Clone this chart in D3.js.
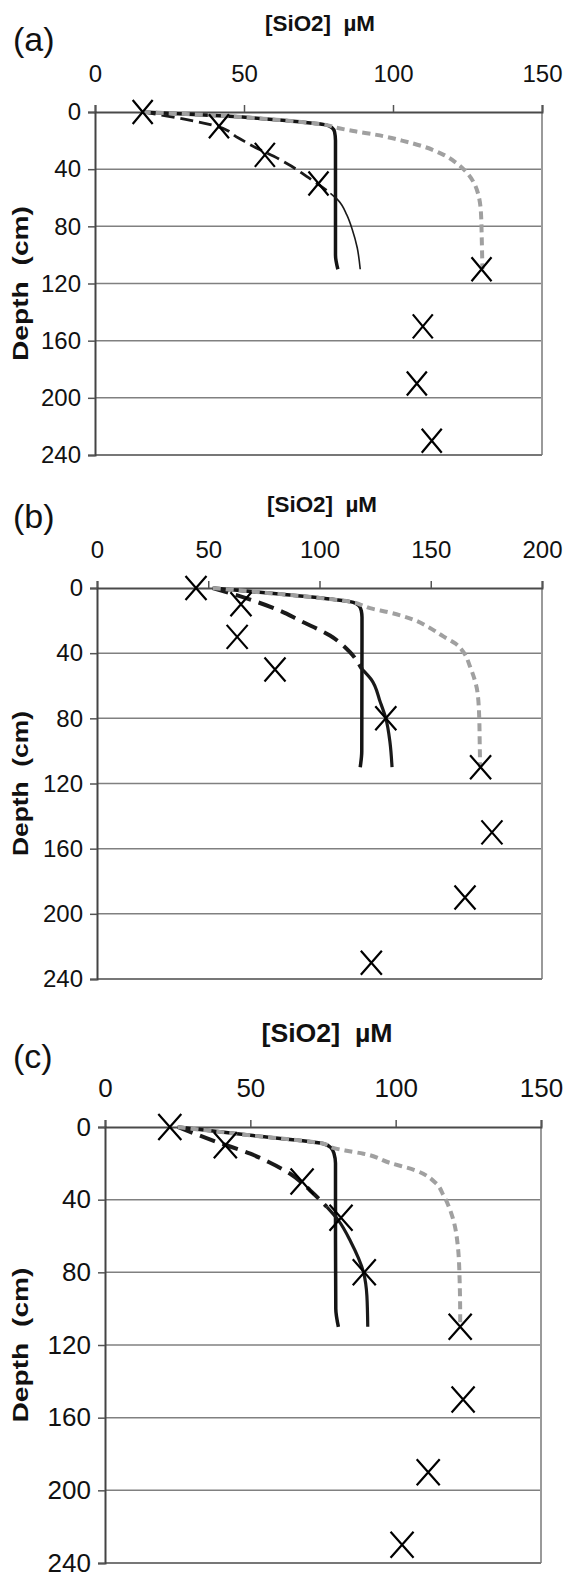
<!DOCTYPE html>
<html>
<head>
<meta charset="utf-8">
<script src="https://cdn.jsdelivr.net/npm/d3@7"></script>
<style>
  body { margin: 0; background: #fff; }
  svg { display: block; font-family: 'Liberation Sans', Arial, sans-serif; }
</style>
</head>
<body>
<div id="chart"></div>
<script>
// tick values
var depthTicks = [0, 40, 80, 120, 160, 200, 240]
var xTicksA = [0, 50, 100, 150]
var xTicksB = [0, 50, 100, 150, 200]
var xTicksC = [0, 50, 100, 150]

// measured porewater silica (the X marks)
var obsDepthA = [0, 10, 30, 50, 110, 150, 190, 230]
var obsSiA = [16, 41.6, 57, 75, 129.7, 110, 108, 113]
var obsDepthB = [0, 10, 30, 50, 80, 110, 150, 190, 230]
var obsSiB = [44.5, 64.7, 63, 80, 129.8, 172.4, 177.5, 165.4, 123.3]
var obsDepthC = [0, 10, 30, 50, 80, 110, 150, 190, 230]
var obsSiC = [22.3, 41.4, 67.8, 81.2, 89.2, 122.2, 123.2, 111.2, 102.2]

// model 1 (solid black)
var solidDepthA = [0, 3, 6, 9, 11, 14, 20, 60, 100, 110]
var solidSiA = [16, 45, 64, 77.5, 79.5, 80.4, 80.7, 80.7, 80.7, 81.5]
var solidDepthB = [0, 3.7, 6.8, 8.8, 11, 14, 18, 30, 100, 110]
var solidSiB = [52, 82, 104.7, 115.2, 117.8, 118.8, 119.1, 119.1, 119, 118.3]
var solidDepthC = [0, 4.6, 9.2, 11.5, 14.7, 20, 60, 100, 110]
var solidSiC = [25, 50, 75.2, 77.8, 78.8, 79.3, 79.3, 79.4, 80.3]

// model 2 (black dashed near the top, then solid)
var dashDepthA = [0, 5, 10, 18, 25, 31, 38, 45, 50, 57]
var dashSiA = [16, 30, 41, 48, 54, 60, 66, 71, 74.5, 79]
var tailDepthA = [57, 62, 72, 82, 95, 110]
var tailSiA = [79, 81.7, 84.5, 86.3, 88, 89]
var dashDepthB = [0, 7.8, 13.9, 20, 29.2, 39.4, 49.6]
var dashSiB = [52, 70.3, 82.2, 91.2, 104.7, 113.7, 119]
var tailDepthB = [49.6, 56, 70, 80, 95, 110]
var tailSiB = [119, 123.2, 127.3, 129.8, 131.7, 132.6]
var dashDepthC = [0, 8.3, 14.7, 19.3, 25.7, 34.9, 44]
var dashSiC = [25, 38.6, 50, 56.3, 63.7, 70.6, 76.3]
var tailDepthC = [44, 51.4, 63, 80.4, 93, 110]
var tailSiC = [76.3, 80.3, 84.5, 89, 90.1, 90.4]

// model 3 (grey dashed)
var grayDepthA = [0, 3, 6, 9, 11, 13.5, 16, 20, 24, 30, 36, 43, 52, 70, 90, 110]
var graySiA = [16, 45, 64, 77.5, 81, 87.3, 94.5, 103, 110, 117, 121.5, 125, 127.7, 129.5, 129.8, 130]
var grayDepthB = [0, 3.7, 6.8, 8.8, 10.5, 12.4, 14.9, 19.4, 24, 30, 34, 40, 48, 64, 80, 95, 110]
var graySiB = [52, 82, 104.7, 115.2, 119, 122.7, 131, 142.2, 149, 156, 161, 165, 167.6, 171, 171.8, 172, 172.2]
var grayDepthC = [0, 4.6, 9.2, 11.5, 12.9, 14.7, 19.8, 23.7, 31, 37.4, 49.3, 65.8, 84, 106, 110]
var graySiC = [25, 50, 75.2, 78.5, 82.6, 88.9, 98.1, 106.5, 113.9, 116.4, 119.5, 121.4, 122, 122.2, 122.2]

function pts(depth, si) {
  return d3.zip(depth, si).map(function(p) { return { d: p[0], v: p[1] } })
}

var panels = [
  { tag: '(a)', top: 112, bottom: 455, left: 95, right: 542, xMax: 150, xTicks: xTicksA,
    tagY: 51, titleX: 320, titleY: 31, titleLen: 110, titleSize: 22, yTitleLen: 155, font: 24,
    mark: [10, 12], dashW: 2.8, dashArr: '13,6', tailW: 1.6,
    obs: pts(obsDepthA, obsSiA), solid: pts(solidDepthA, solidSiA), dash: pts(dashDepthA, dashSiA),
    tail: pts(tailDepthA, tailSiA), gray: pts(grayDepthA, graySiA) },
  { tag: '(b)', top: 588, bottom: 979, left: 97, right: 542, xMax: 200, xTicks: xTicksB,
    tagY: 528, titleX: 322, titleY: 512, titleLen: 110, titleSize: 22, yTitleLen: 145, font: 24,
    mark: [10.5, 12], dashW: 4, dashArr: '16,8', tailW: 3.2,
    obs: pts(obsDepthB, obsSiB), solid: pts(solidDepthB, solidSiB), dash: pts(dashDepthB, dashSiB),
    tail: pts(tailDepthB, tailSiB), gray: pts(grayDepthB, graySiB) },
  { tag: '(c)', top: 1127, bottom: 1563, left: 105, right: 541, xMax: 150, xTicks: xTicksC,
    tagY: 1068, titleX: 327, titleY: 1042, titleLen: 131, titleSize: 25, yTitleLen: 155, font: 26,
    mark: [11.5, 13], dashW: 4, dashArr: '16,8', tailW: 3.2,
    obs: pts(obsDepthC, obsSiC), solid: pts(solidDepthC, solidSiC), dash: pts(dashDepthC, dashSiC),
    tail: pts(tailDepthC, tailSiC), gray: pts(grayDepthC, graySiC) }
]

var svg = d3.select('#chart')
  .append('svg')
  .attr('width', 563)
  .attr('height', 1574)

svg.append('rect').attr('width', 563).attr('height', 1574).attr('fill', '#fff')

panels.forEach(function(p) {
  var g = svg.append('g')

  var xPositionScale = d3.scaleLinear().domain([0, p.xMax]).range([p.left, p.right])
  var yPositionScale = d3.scaleLinear().domain([0, 240]).range([p.top, p.bottom])

  // horizontal grid lines
  g.append('g')
    .selectAll('line')
    .data(depthTicks.slice(1, -1))
    .enter()
    .append('line')
    .attr('x1', p.left)
    .attr('x2', p.right)
    .attr('y1', d => yPositionScale(d))
    .attr('y2', d => yPositionScale(d))
    .attr('stroke', '#808080')
    .attr('stroke-width', 1.5)

  // frame: right and bottom
  g.append('line')
    .attr('x1', p.right).attr('x2', p.right)
    .attr('y1', p.top).attr('y2', p.bottom)
    .attr('stroke', '#9a9a9a').attr('stroke-width', 2)
  g.append('line')
    .attr('x1', p.left).attr('x2', p.right)
    .attr('y1', p.bottom).attr('y2', p.bottom)
    .attr('stroke', '#777').attr('stroke-width', 2)

  // top x axis
  var xAxis = d3.axisTop(xPositionScale).tickValues(p.xTicks).tickSize(7).tickPadding(23)
  var xg = g.append('g')
    .attr('transform', 'translate(0,' + p.top + ')')
    .call(xAxis)
  xg.select('.domain').attr('stroke', '#4a4a4a').attr('stroke-width', 2)
  xg.selectAll('.tick line').attr('stroke', '#555').attr('stroke-width', 1.5)
  xg.selectAll('.tick text')
    .attr('font-size', p.font)
    .attr('font-family', "'Liberation Sans', Arial, sans-serif")
    .attr('fill', '#111')

  // left y axis
  var yAxis = d3.axisLeft(yPositionScale).tickValues(depthTicks).tickSize(7).tickPadding(7)
  var yg = g.append('g')
    .attr('transform', 'translate(' + p.left + ',0)')
    .call(yAxis)
  yg.select('.domain').attr('stroke', '#444').attr('stroke-width', 2)
  yg.selectAll('.tick line').attr('stroke', '#555').attr('stroke-width', 1.5)
  yg.selectAll('.tick text')
    .attr('font-size', p.font)
    .attr('font-family', "'Liberation Sans', Arial, sans-serif")
    .attr('fill', '#111')

  var line = d3.line()
    .x(d => xPositionScale(d.v))
    .y(d => yPositionScale(d.d))
    .curve(d3.curveMonotoneY)

  // model 1
  g.append('path')
    .datum(p.solid)
    .attr('d', line)
    .attr('fill', 'none')
    .attr('stroke', '#141414')
    .attr('stroke-width', 3.5)

  // model 2
  g.append('path')
    .datum(p.dash)
    .attr('d', line)
    .attr('fill', 'none')
    .attr('stroke', '#1a1a1a')
    .attr('stroke-width', p.dashW)
    .attr('stroke-dasharray', p.dashArr)
  g.append('path')
    .datum(p.tail)
    .attr('d', line)
    .attr('fill', 'none')
    .attr('stroke', '#1a1a1a')
    .attr('stroke-width', p.tailW)

  // model 3
  g.append('path')
    .datum(p.gray)
    .attr('d', line)
    .attr('fill', 'none')
    .attr('stroke', '#a0a0a0')
    .attr('stroke-width', 4)
    .attr('stroke-dasharray', '8,5')

  // measured points
  var mx = p.mark[0]
  var my = p.mark[1]
  g.append('g')
    .selectAll('path')
    .data(p.obs)
    .enter()
    .append('path')
    .attr('transform', d => 'translate(' + xPositionScale(d.v) + ',' + yPositionScale(d.d) + ')')
    .attr('d', 'M' + -mx + ',' + -my + 'L' + mx + ',' + my + 'M' + mx + ',' + -my + 'L' + -mx + ',' + my)
    .attr('stroke', '#000')
    .attr('stroke-width', 2.2)
    .attr('fill', 'none')

  // panel tag
  g.append('text')
    .text(p.tag)
    .attr('x', 13)
    .attr('y', p.tagY)
    .attr('font-size', 34)
    .attr('fill', '#111')

  // x title
  g.append('text')
    .text('[SiO2]  µM')
    .attr('x', p.titleX)
    .attr('y', p.titleY)
    .attr('text-anchor', 'middle')
    .attr('font-size', p.titleSize)
    .attr('font-weight', 'bold')
    .attr('textLength', p.titleLen)
    .attr('lengthAdjust', 'spacingAndGlyphs')
    .style('white-space', 'pre')
    .attr('fill', '#111')

  // y title
  g.append('text')
    .text('Depth  (cm)')
    .attr('transform', 'translate(28,' + (p.top + p.bottom) / 2 + ') rotate(-90)')
    .attr('text-anchor', 'middle')
    .attr('font-size', 22)
    .attr('font-weight', 'bold')
    .attr('textLength', p.yTitleLen)
    .attr('lengthAdjust', 'spacingAndGlyphs')
    .style('white-space', 'pre')
    .attr('fill', '#111')
})
</script>
</body>
</html>
